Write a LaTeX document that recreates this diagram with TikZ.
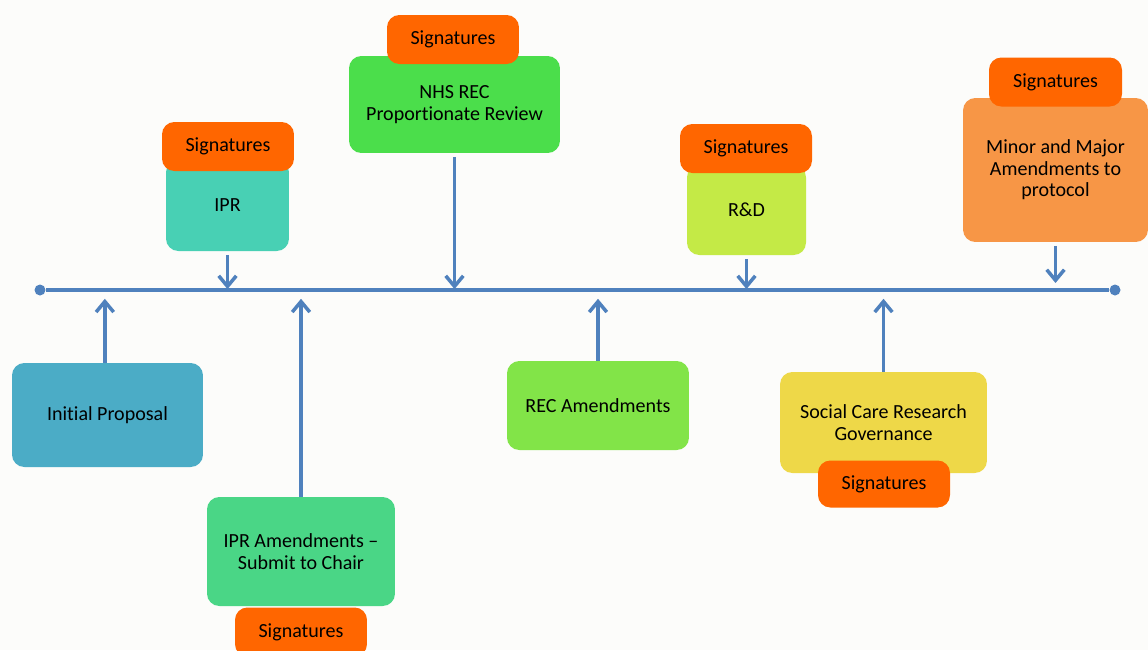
\documentclass[tikz,border=0pt]{standalone}
\usepackage{fontspec}
\setmainfont{Carlito}[Ligatures={TeX,NoCommon}]
\usepackage{xcolor}
\usepackage{tikz}
\usetikzlibrary{arrows.meta,positioning}

\definecolor{tlblue}{HTML}{4F81BD}
\definecolor{sigorange}{HTML}{FF6600}
\definecolor{initblue}{HTML}{4BACC6}
\definecolor{iprgreen}{HTML}{48D0B4}
\definecolor{nhsgreen}{HTML}{4BDE4B}
\definecolor{rdlime}{HTML}{C4EA46}
\definecolor{minororange}{HTML}{F79646}
\definecolor{amgreen}{HTML}{4AD686}
\definecolor{recgreen}{HTML}{82E448}
\definecolor{socyellow}{HTML}{EED848}
\definecolor{paper}{HTML}{FCFCFA}

\begin{document}
\begin{tikzpicture}[
  x=0.02cm, y=-0.02cm,
  >={Straight Barb[length=6pt,width=10pt]},
  box/.style={rounded corners=7pt, align=center, inner sep=0pt, text=black,
              font=\fontsize{11.4}{12.2}\selectfont},
  sig/.style={box, fill=sigorange, minimum width=2.64cm, minimum height=0.98cm},
  dot/.style={circle, fill=tlblue, inner sep=0pt, minimum size=2.2mm},
  tline/.style={line width=1.9pt, draw=tlblue},
  flow/.style={->, line width=2pt, draw=tlblue}
]
% page
\fill[paper] (0,0) rectangle (1148,650);
\useasboundingbox (0,0) rectangle (1148,650);
\clip (0,0) rectangle (1148,650);

% timeline
\node[dot] (t0) at (40,290) {};
\node[dot] (t1) at (1115,290) {};
\draw[tline] (t0) -- (t1);

% stages above the line
\node[box, fill=iprgreen, minimum width=2.46cm, minimum height=1.82cm] (ipr) at (227.5,205.5) {IPR};
\node[box, fill=nhsgreen, minimum width=4.22cm, minimum height=1.94cm] (nhs) at (454.5,104.5) {NHS REC\\Proportionate Review};
\node[box, fill=rdlime, minimum width=2.38cm, minimum height=1.80cm] (rd) at (746.5,210) {R\&D};
\node[box, fill=minororange, minimum width=3.70cm, minimum height=2.88cm] (minor) at (1055.5,170) {Minor and Major\\Amendments to\\protocol};

% stages below the line
\node[box, fill=initblue, minimum width=3.82cm, minimum height=2.08cm] (init) at (107.5,415) {Initial Proposal};
\node[box, fill=amgreen, minimum width=3.76cm, minimum height=2.18cm] (iprAm) at (301,551.5) {IPR Amendments --\\Submit to Chair};
\node[box, fill=recgreen, minimum width=3.64cm, minimum height=1.78cm] (rec) at (598,405.5) {REC Amendments};
\node[box, fill=socyellow, minimum width=4.14cm, minimum height=2.02cm] (soc) at (883.5,422.5) {Social Care Research\\Governance};

% signature tabs
\node[sig] (sigIpr) at (228,146.5) {Signatures};
\node[sig] (sigNhs) at (453,39.5) {Signatures};
\node[sig] (sigRd) at (746,148.5) {Signatures};
\node[sig, minimum width=2.66cm] (sigMinor) at (1055.5,82) {Signatures};
\node[sig] (sigIprAm) at (301,632) {Signatures};
\node[sig, minimum height=0.94cm] (sigSoc) at (884,484) {Signatures};

% arrows down onto the line
\draw[flow, shorten <=2pt, shorten >=0.5pt] (ipr.south) -- (ipr.south |- t0);
\draw[flow, shorten <=2pt, shorten >=0.5pt] (nhs.south) -- (nhs.south |- t0);
\draw[flow, shorten <=2pt, shorten >=0.5pt] (rd.south) -- (rd.south |- t0);
\draw[flow, shorten <=2pt, shorten >=4pt] (minor.south) -- (minor.south |- t0);

% arrows up towards the line
\draw[flow, shorten >=5pt] ([xshift=-1.5]init.north) -- ([xshift=-1.5]init.north |- t0);
\draw[flow, shorten >=5pt] (iprAm.north) -- (iprAm.north |- t0);
\draw[flow, shorten >=5pt] (rec.north) -- (rec.north |- t0);
\draw[flow, shorten >=5pt] (soc.north) -- (soc.north |- t0);
\end{tikzpicture}
\end{document}
